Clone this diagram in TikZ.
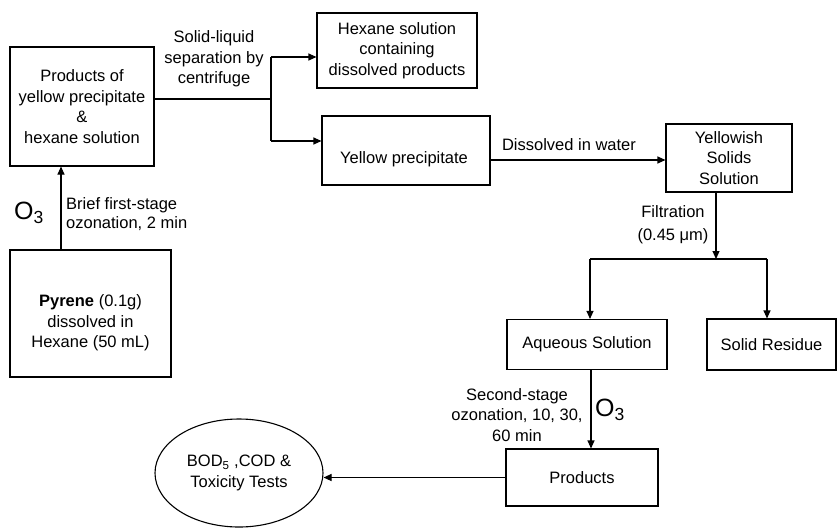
\documentclass[tikz,border=0pt]{standalone}
\usepackage{fontspec}
\setmainfont{Liberation Sans}
\usetikzlibrary{arrows.meta,shapes.geometric}
\begin{document}
\begin{tikzpicture}[x=1pt,y=-1pt,
  every node/.style={font=\fontsize{16.5}{20.5}\selectfont, inner sep=0pt},
  box/.style={draw, line width=1.1pt, rectangle},
  conn/.style={line width=1.1pt},
  arr/.style={conn,-{Triangle[length=8pt,width=7pt]}},
  txt/.style={align=center},
  ozone/.style={font=\fontsize{25}{25}\selectfont}]
\useasboundingbox (0,0) rectangle (837,528);

% boxes
\node[box, minimum width=144pt, minimum height=119pt, txt] (mix) at (82,106.5)
  {Products of\\yellow precipitate\\\&\\hexane solution};
\node[box, minimum width=161pt, minimum height=127pt] (pyrene) at (90.5,313.5) {};
\node[txt] (pyrenetxt) at (90.5,323) {\textbf{Pyrene} (0.1g)\\dissolved in\\Hexane (50 mL)};
\node[box, minimum width=160pt, minimum height=75pt, txt] (hexane) at (397,50.5)
  {Hexane solution\\containing\\dissolved products};
\node[box, minimum width=168pt, minimum height=69pt] (yellow) at (406,150.5) {};
\node (yellowtxt) at (404,159) {Yellow precipitate};
\node[box, minimum width=126pt, minimum height=68pt, txt] (yellowish) at (729,158)
  {Yellowish\\Solids\\Solution};
\node[box, minimum width=160pt, minimum height=50pt] (aqueous) at (587,344.5) {Aqueous Solution};
\node[box, minimum width=129pt, minimum height=51pt] (solid) at (771.5,344.5) {Solid Residue};
\node[box, minimum width=152pt, minimum height=57pt] (products) at (582,477.5) {Products};
\node[draw, line width=1.1pt, ellipse, minimum width=168pt, minimum height=108pt, txt] (tests) at (239,473)
  {BOD\textsubscript{5} ,COD \&\\Toxicity Tests};

% labels
\node[txt] (seplabel) at (214,59) {Solid-liquid\\separation by\\centrifuge};
\node[align=left, anchor=west, font=\fontsize{16.5}{19.5}\selectfont] (brief) at (66,214) {Brief first-stage\\ozonation, 2 min};
\node[ozone] (o3a) at (29,213) {O\textsubscript{3}};
\node (dissolved) at (569,145) {Dissolved in water};
\node[txt, font=\fontsize{16.5}{23}\selectfont] (filt) at (673,225) {Filtration\\(0.45 μm)};
\node[txt] (second) at (517,415) {Second-stage\\ozonation, 10, 30,\\60 min};
\node[ozone] (o3b) at (610,410) {O\textsubscript{3}};

% connectors
\draw[arr] (pyrene.north -| 61,0) -- (mix.south -| 61,0);
\coordinate (fmid) at (271,99);
\coordinate (ftop) at (271,57);
\coordinate (fbot) at (271,141);
\draw[conn] (mix.east |- fmid) -- (fmid);
\draw[conn] (ftop) -- (fbot);
\draw[arr] (ftop) -- (hexane.west |- ftop);
\draw[arr] (fbot) -- (yellow.west |- fbot);
\draw[arr] (yellow.east |- 0,160) -- (yellowish.west |- 0,160);
\coordinate (f2) at (716,259);
\coordinate (f2l) at (590,259);
\coordinate (f2r) at (767,259);
\draw[arr] (yellowish.south -| f2) -- (f2);
\draw[conn] (f2l) -- (f2r);
\draw[arr] (f2l) -- (aqueous.north -| f2l);
\draw[arr] (f2r) -- (solid.north -| f2r);
\draw[arr] (aqueous.south -| 591,0) -- (products.north -| 591,0);
\draw[arr] (products.west) -- (tests.east |- products.west);
\end{tikzpicture}
\end{document}
